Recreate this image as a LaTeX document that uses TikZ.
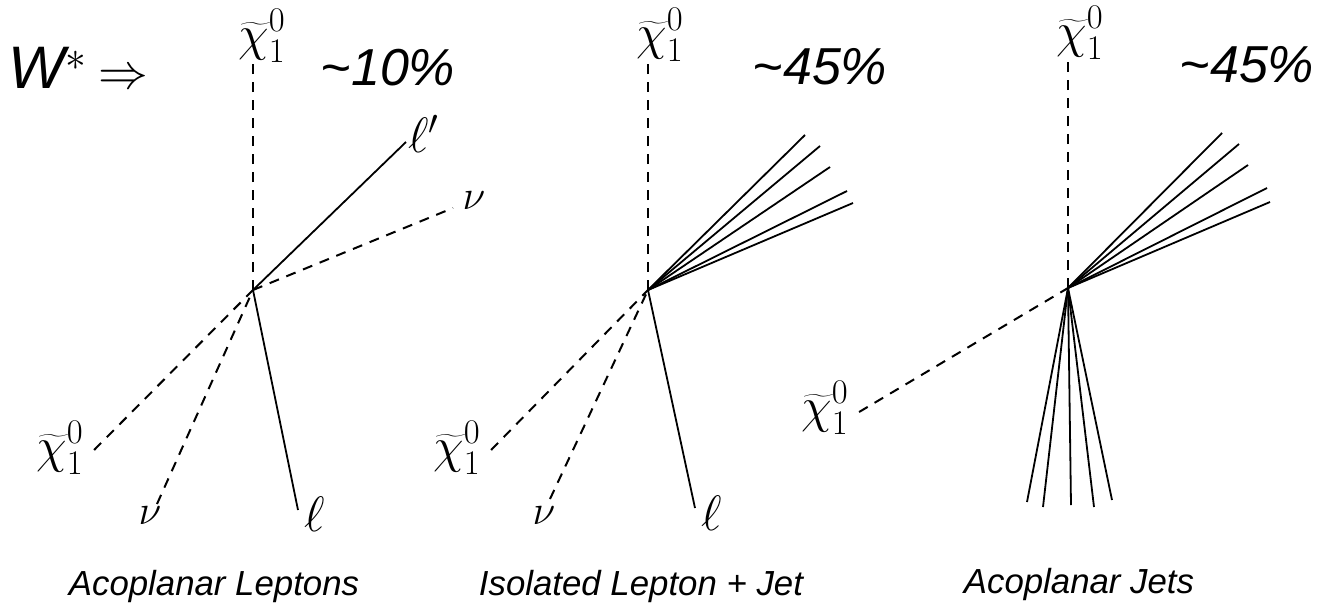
\documentclass[tikz,border=0pt]{standalone}
\usepackage{fontspec}
\setmainfont{Liberation Sans}
\begin{document}
\begin{tikzpicture}[x=0.5pt,y=-0.5pt,
  dsh/.style={line width=1pt,dash pattern=on 5pt off 4pt},
  sol/.style={line width=0.9pt},
  chi/.style={inner sep=0pt,font=\fontsize{23}{27}\selectfont},
  ell/.style={inner sep=0pt,font=\fontsize{25}{30}\selectfont},
  nu/.style={inner sep=0pt,font=\fontsize{22}{26}\selectfont},
  pct/.style={inner sep=0pt,font=\fontsize{26}{30}\selectfont\itshape},
  captxt/.style={inner sep=0pt,font=\fontsize{17.4}{20}\selectfont\itshape}]
\useasboundingbox (0,0) rectangle (1334,606);

% ---------- header
\node[inner sep=0pt,anchor=west,font=\fontsize{30}{34}\selectfont] (wstar) at (8,68) {\itshape W$^{\ast}$\hspace{6pt}$\Rightarrow$};

% ---------- panel 1: acoplanar leptons
\coordinate (v1) at (253,290);
\node[chi] (c1t) at (262,36) {$\widetilde{\chi}^0_1$};
\node[pct] (p1) at (388,68) {\char`~10\%};
\coordinate (lp1) at (406,142);
\node[ell] (lp1l) at (424,134) {$\ell'$};
\coordinate (nu1a) at (453,208);
\node[nu] (nu1al) at (474,201) {$\nu$};
\node[chi] (c1b) at (60,448) {$\widetilde{\chi}^0_1$};
\coordinate (nu1b) at (157,504);
\node[nu] (nu1bl) at (150,516) {$\nu$};
\coordinate (l1) at (298,510);
\node[ell] (l1l) at (315,514) {$\ell$};
\node[captxt] (t1) at (214,586) {Acoplanar Leptons};

\draw[dsh] (v1) -- (v1 |- c1t.south);
\draw[sol] (v1) -- (lp1);
\draw[dsh] (v1) -- (nu1a);
\draw[dsh] ([xshift=5pt,yshift=-1pt]c1b.east) -- (v1);
\draw[dsh] (nu1b) -- (v1);
\draw[sol] (v1) -- (l1);

% ---------- panel 2: isolated lepton + jet
\coordinate (v2) at (648,290);
\node[chi] (c2t) at (660,35) {$\widetilde{\chi}^0_1$};
\node[pct] (p2) at (820,67) {\char`~45\%};
\coordinate (j2a) at (805,135);
\coordinate (j2b) at (820,146);
\coordinate (j2c) at (830,167);
\coordinate (j2d) at (847,191);
\coordinate (j2e) at (853,203);
\node[chi] (c2b) at (457,448) {$\widetilde{\chi}^0_1$};
\coordinate (nu2) at (550,499);
\node[nu] (nu2l) at (544,516) {$\nu$};
\coordinate (l2) at (695,508);
\node[ell] (l2l) at (712,513) {$\ell$};
\node[captxt] (t2) at (641,586) {Isolated Lepton + Jet};

\draw[dsh] (v2) -- (v2 |- c2t.south);
\foreach \j in {j2a,j2b,j2c,j2d,j2e} \draw[sol] (v2) -- (\j);
\draw[dsh] ([xshift=5pt,yshift=-1pt]c2b.east) -- (v2);
\draw[dsh] (nu2) -- (v2);
\draw[sol] (v2) -- (l2);

% ---------- panel 3: acoplanar jets
\coordinate (v3) at (1068,288);
\node[chi] (c3t) at (1080,33) {$\widetilde{\chi}^0_1$};
\node[pct] (p3) at (1247,65) {\char`~45\%};
\coordinate (j3a) at (1222,133);
\coordinate (j3b) at (1239,144);
\coordinate (j3c) at (1248,165);
\coordinate (j3d) at (1267,188);
\coordinate (j3e) at (1270,202);
\node[chi] (c3l) at (825,408) {$\widetilde{\chi}^0_1$};
\coordinate (k3a) at (1027,502);
\coordinate (k3b) at (1043,507);
\coordinate (k3c) at (1071,505);
\coordinate (k3d) at (1094,507);
\coordinate (k3e) at (1112,500);
\node[captxt] (t3) at (1079,584) {Acoplanar Jets};

\draw[dsh] (v3) -- (v3 |- c3t.south);
\foreach \j in {j3a,j3b,j3c,j3d,j3e} \draw[sol] (v3) -- (\j);
\foreach \j in {k3a,k3b,k3c,k3d,k3e} \draw[sol] (v3) -- (\j);
\draw[dsh] ([xshift=5pt,yshift=-2pt]c3l.east) -- (v3);
\end{tikzpicture}
\end{document}
